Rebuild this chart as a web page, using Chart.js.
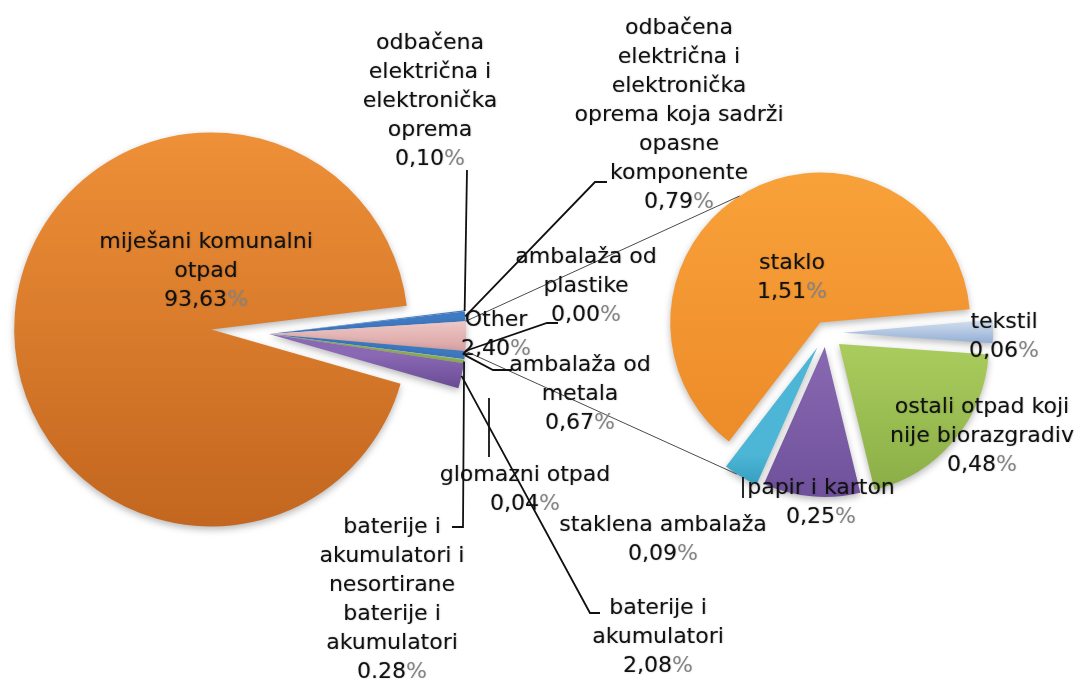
<!DOCTYPE html>
<html>
<head>
<meta charset="utf-8">
<title>Sastav otpada</title>
<script src="https://cdn.jsdelivr.net/npm/chart.js@4.4.1/dist/chart.umd.min.js"></script>
<style>
  html, body { margin: 0; padding: 0; background: #fff; }
  #wrap { position: relative; width: 1082px; height: 684px; }
  #wrap canvas { position: absolute; left: 0; top: 0; }
</style>
</head>
<body>
<div id="wrap">
  <canvas id="main-pie" width="1082" height="684"></canvas>
  <canvas id="other-pie" width="1082" height="684"></canvas>
</div>
<script>
// Main pie: categories (already wrapped into label lines) and shares in %
const mainCategories = [
  ['miješani komunalni', 'otpad'],
  ['odbačena', 'električna i', 'elektronička', 'oprema'],
  ['odbačena', 'električna i', 'elektronička', 'oprema koja sadrži', 'opasne', 'komponente'],
  ['Other'],
  ['ambalaža od', 'plastike'],
  ['ambalaža od', 'metala'],
  ['glomazni otpad'],
  ['baterije i', 'akumulatori i', 'nesortirane', 'baterije i', 'akumulatori'],
  ['baterije i', 'akumulatori'],
];
const mainValues = [93.63, 0.10, 0.79, 2.40, 0.00, 0.67, 0.04, 0.28, 2.08];
const mainDecimalSep = [',', ',', ',', ',', ',', ',', ',', '.', ','];

// Second pie: breakdown of "Other"
const otherCategories = [
  ['staklo'],
  ['tekstil'],
  ['ostali otpad koji', 'nije biorazgradiv'],
  ['papir i karton'],
  ['staklena ambalaža'],
];
const otherValues = [1.51, 0.06, 0.48, 0.25, 0.09];

const OTHER_INDEX = 3; // slice of the main pie that is split in the second pie

// Layout / style
const FONT = '22px "DejaVu Sans"';
const LINE_H = 29;
const TEXT_COLOR = '#111';
const PCT_COLOR = '#858585';

const mainExplode = [58, 0, 0, 0, 0, 0, 0, 0, 0];
const otherExplode = [12, 17, 17, 14, 17];

// label position: [center x, y of first line]
const mainLabelPos = [
  [206, 242], [430, 43], [679, 28], [496, 320], [586, 257],
  [580, 365], [525, 475], [392, 527], [658, 608],
];
const otherLabelPos = [[792, 263], [1004, 322], [982, 407], [821, 488], [663, 525]];

// leader lines: points starting at the label, last point is the slice
const mainLeaders = {
  1: [[467, 170]],
  2: [[607, 182], [595, 182]],
  4: [[558, 323], [547, 323]],
  5: [[512, 370], [493, 370]],
  6: [[489, 457], [489, 398]],
  7: [[452, 527], [463, 527]],
  8: [[600, 613], [590, 613]],
};

const mainCanvas = document.getElementById('main-pie');
const otherCanvas = document.getElementById('other-pie');
const mainCtx = mainCanvas.getContext('2d');
const otherCtx = otherCanvas.getContext('2d');

function vGradient(ctx, y0, y1, c0, c1) {
  const g = ctx.createLinearGradient(0, y0, 0, y1);
  g.addColorStop(0, c0);
  g.addColorStop(1, c1);
  return g;
}

const mainColors = [
  vGradient(mainCtx, 130, 530, '#EF9138', '#C3661F'),
  '#4A80C6',
  '#3F7AC2',
  vGradient(mainCtx, 315, 350, '#F2CFCE', '#D9A3A2'),
  '#4BACC6',
  '#3E78BE',
  '#B9CDE5',
  '#8DB04A',
  vGradient(mainCtx, 355, 390, '#8A68B4', '#674A92'),
];
const otherColors = [
  vGradient(otherCtx, 170, 470, '#F9A23A', '#EC8A28'),
  vGradient(otherCtx, 320, 345, '#D3E0F0', '#8EAAD2'),
  vGradient(otherCtx, 340, 495, '#A9CB5D', '#87AB44'),
  vGradient(otherCtx, 345, 500, '#8767B0', '#6C4E98'),
  vGradient(otherCtx, 440, 480, '#4DB6D6', '#2F98B8'),
];

// Draws each slice moved out along its mid angle, with a soft shadow
const explodePlugin = {
  id: 'explode',
  beforeDatasetDraw(chart, args, opts) {
    const ctx = chart.ctx;
    const distances = opts.distances || [];
    args.meta.data.forEach((arc, i) => {
      const p = arc.getProps(['startAngle', 'endAngle']);
      const mid = (p.startAngle + p.endAngle) / 2;
      const d = distances[i] || 0;
      ctx.save();
      ctx.shadowColor = 'rgba(0,0,0,0.28)';
      ctx.shadowBlur = 7;
      ctx.shadowOffsetY = 3;
      ctx.translate(Math.cos(mid) * d, Math.sin(mid) * d);
      arc.draw(ctx);
      ctx.restore();
    });
    return false;
  },
};

// point on the rim of a slice (angle in radians, default: mid angle)
function rimPoint(chart, distances, index, angle) {
  const arc = chart.getDatasetMeta(0).data[index];
  const p = arc.getProps(['x', 'y', 'startAngle', 'endAngle', 'outerRadius']);
  const mid = (p.startAngle + p.endAngle) / 2;
  const d = distances[index] || 0;
  const a = angle === undefined ? mid : angle;
  return [
    p.x + Math.cos(mid) * d + Math.cos(a) * p.outerRadius,
    p.y + Math.sin(mid) * d + Math.sin(a) * p.outerRadius,
  ];
}

function formatPct(value, sep) {
  return value.toFixed(2).replace('.', sep);
}

function drawLabel(ctx, lines, num, pos) {
  const [cx, y0] = pos;
  ctx.save();
  ctx.font = FONT;
  ctx.textBaseline = 'middle';
  ctx.textAlign = 'center';
  ctx.fillStyle = TEXT_COLOR;
  // slight glow like the Excel text shadow
  ctx.shadowColor = 'rgba(0,0,0,0.35)';
  ctx.shadowBlur = 1.5;
  ctx.shadowOffsetX = 0.5;
  ctx.shadowOffsetY = 0.5;
  lines.forEach((line, k) => ctx.fillText(line, cx, y0 + k * LINE_H));
  const y = y0 + lines.length * LINE_H;
  const wNum = ctx.measureText(num).width;
  const wSign = ctx.measureText('%').width;
  const x0 = cx - (wNum + wSign) / 2;
  ctx.textAlign = 'left';
  ctx.fillText(num, x0, y);
  ctx.fillStyle = PCT_COLOR;
  ctx.shadowColor = 'rgba(0,0,0,0.15)';
  ctx.fillText('%', x0 + wNum, y);
  ctx.restore();
}

function polyline(ctx, pts) {
  ctx.beginPath();
  pts.forEach(([x, y], k) => (k ? ctx.lineTo(x, y) : ctx.moveTo(x, y)));
  ctx.stroke();
}

// Series lines, leader lines and all data labels (drawn on the top canvas)
const labelsPlugin = {
  id: 'pieLabels',
  afterDraw(chart) {
    const ctx = chart.ctx;
    ctx.save();

    // series lines from "Other" to the second pie
    const deg = Math.PI / 180;
    const mainArc = mainChart.getDatasetMeta(0).data[OTHER_INDEX];
    ctx.strokeStyle = '#4a4a4a';
    ctx.lineWidth = 1;
    polyline(ctx, [
      rimPoint(mainChart, mainExplode, OTHER_INDEX, mainArc.startAngle),
      rimPoint(chart, otherExplode, 0, 237.5 * deg),
    ]);
    polyline(ctx, [
      rimPoint(mainChart, mainExplode, OTHER_INDEX, mainArc.endAngle),
      rimPoint(chart, otherExplode, 4, 122.5 * deg),
    ]);

    // leader lines
    ctx.strokeStyle = '#111';
    ctx.lineWidth = 1.8;
    Object.keys(mainLeaders).forEach((key) => {
      const i = Number(key);
      const pts = mainLeaders[i].slice();
      if (i === 6) {
        polyline(ctx, pts);
        return;
      }
      pts.push(rimPoint(mainChart, mainExplode, i, undefined));
      polyline(ctx, pts);
    });
    polyline(ctx, [[743, 498], [743, 477]]);

    // labels
    mainCategories.forEach((lines, i) => {
      drawLabel(ctx, lines, formatPct(mainValues[i], mainDecimalSep[i]), mainLabelPos[i]);
    });
    otherCategories.forEach((lines, i) => {
      drawLabel(ctx, lines, formatPct(otherValues[i], ','), otherLabelPos[i]);
    });
    ctx.restore();
  },
};

const baseOptions = {
  responsive: false,
  animation: false,
  events: [],
  plugins: { legend: { display: false }, tooltip: { enabled: false } },
};

const mainChart = new Chart(mainCanvas, {
  type: 'pie',
  data: {
    labels: mainCategories.map((l) => l.join(' ')),
    datasets: [{
      data: mainValues,
      backgroundColor: mainColors,
      borderWidth: 0,
      radius: 197,
      rotation: 106,
    }],
  },
  options: {
    ...baseOptions,
    layout: { padding: { left: 0, top: 0, right: 1082 - 2 * 269, bottom: 684 - 2 * 334 } },
    plugins: { ...baseOptions.plugins, explode: { distances: mainExplode } },
  },
  plugins: [explodePlugin],
});

const otherChart = new Chart(otherCanvas, {
  type: 'pie',
  data: {
    labels: otherCategories.map((l) => l.join(' ')),
    datasets: [{
      data: otherValues,
      backgroundColor: otherColors,
      borderWidth: 0,
      radius: 150,
      rotation: 217.5,
    }],
  },
  options: {
    ...baseOptions,
    layout: { padding: { left: 2 * 826 - 1082, top: 0, right: 0, bottom: 684 - 2 * 333 } },
    plugins: { ...baseOptions.plugins, explode: { distances: otherExplode } },
  },
  plugins: [explodePlugin, labelsPlugin],
});
</script>
</body>
</html>
